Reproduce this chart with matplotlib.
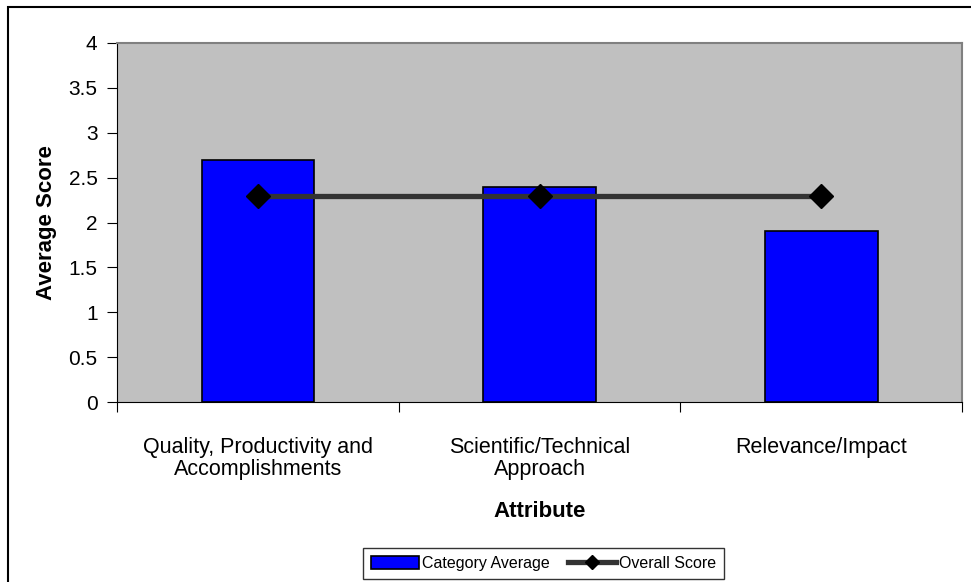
import matplotlib.pyplot as plt
import numpy as np
from matplotlib.patches import Rectangle

plt.rcParams['font.family'] = ['Liberation Sans', 'DejaVu Sans']

categories = ['Quality, Productivity and\nAccomplishments', 'Scientific/Technical\nApproach', 'Relevance/Impact']
category_avg = [2.7, 2.4, 1.9]
overall_score = [2.3, 2.3, 2.3]
y_ticks = [0, 0.5, 1, 1.5, 2, 2.5, 3, 3.5, 4]

fig = plt.figure(figsize=(9.71, 5.82), dpi=100)
W, H = 971, 582

# outer chart frame
fig.patches.append(Rectangle((8 / W, -0.01), (975 - 8) / W, 1 - 7 / H + 0.01,
                             transform=fig.transFigure, fill=False,
                             edgecolor='black', linewidth=1.5))

ax = fig.add_axes([117 / W, 1 - 402 / H, (962 - 117) / W, (402 - 43) / H])
ax.set_facecolor('#c0c0c0')

x = np.arange(len(categories))
bars = ax.bar(x, category_avg, width=0.4, color='#0000ff', edgecolor='black',
              linewidth=1.2, label='Category Average', zorder=2)
line, = ax.plot(x, overall_score, color='#333333', linewidth=3.8, marker='D',
                markersize=12, markerfacecolor='black', markeredgecolor='black',
                label='Overall Score', zorder=3)

ax.set_xlim(-0.5, 2.5)
ax.set_ylim(0, 4)
ax.set_yticks(y_ticks)
ax.set_yticklabels([f'{t:g}' for t in y_ticks], fontsize=15)
ax.set_xticks([-0.5, 0.5, 1.5, 2.5])
ax.set_xticklabels([])
ax.set_xticks(x, minor=True)
ax.set_xticklabels(categories, minor=True, fontsize=15.5, linespacing=1.1)
ax.tick_params(axis='x', which='minor', length=0, pad=25)
ax.tick_params(axis='x', which='major', length=7, direction='out', color='black')
ax.tick_params(axis='y', length=7, direction='out', pad=7)

for s in ['top', 'right']:
    ax.spines[s].set_color('#808080')
    ax.spines[s].set_linewidth(1.5)
ax.spines['left'].set_color('black')
ax.spines['bottom'].set_color('black')

ax.set_ylabel('Average Score', fontsize=16, fontweight='bold', labelpad=8)
ax.set_xlabel('Attribute', fontsize=16, fontweight='bold', labelpad=15)

leg = ax.legend([bars, line], ['Category Average', 'Overall Score'],
                loc='lower left', bbox_to_anchor=(363 / W, 3 / H, (724 - 363) / W, (579 - 541) / H),
                bbox_transform=fig.transFigure, mode='expand', ncol=2,
                fontsize=11.5, frameon=True, fancybox=False, edgecolor='black',
                handlelength=3.0, handleheight=0.9, handletextpad=0.2,
                columnspacing=0.4, borderaxespad=0, borderpad=0.5, markerscale=0.6)
leg.get_frame().set_linewidth(1)

fig.savefig('out.png', dpi=100)
